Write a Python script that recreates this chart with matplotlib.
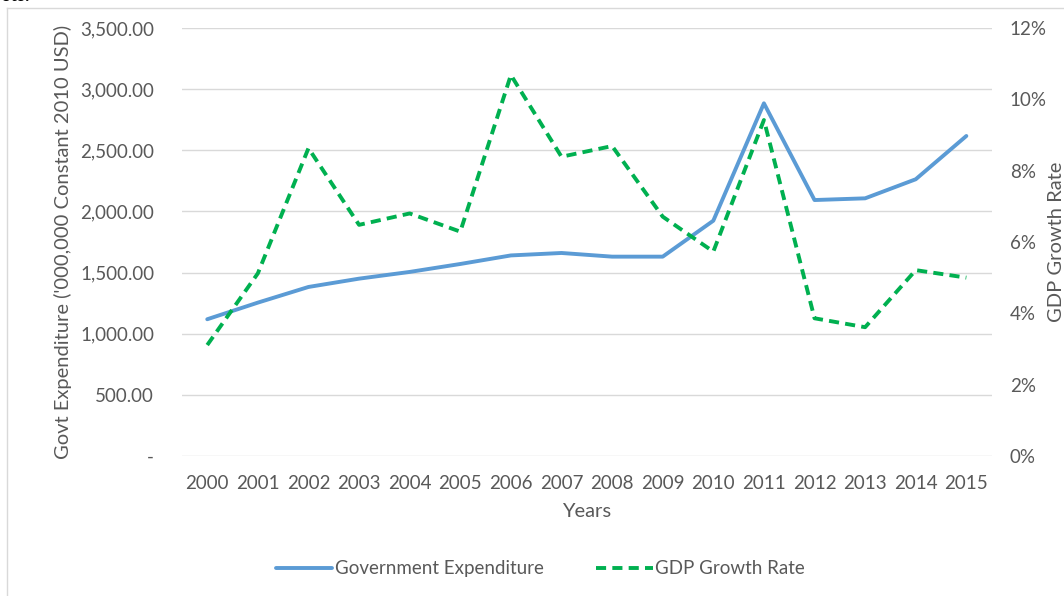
import matplotlib.pyplot as plt
from matplotlib.lines import Line2D
from matplotlib.ticker import FuncFormatter

plt.rcParams['font.family'] = ['Lato', 'DejaVu Sans']

years = [2000, 2001, 2002, 2003, 2004, 2005, 2006, 2007,
         2008, 2009, 2010, 2011, 2012, 2013, 2014, 2015]
govt_exp = [1118, 1254, 1382, 1450, 1505, 1570, 1640, 1660,
            1630, 1630, 1924, 2884, 2093, 2107, 2263, 2617]
gdp_growth = [3.11, 5.12, 8.63, 6.48, 6.80, 6.29, 10.68, 8.39,
              8.69, 6.71, 5.73, 9.42, 3.86, 3.61, 5.21, 5.00]

BLUE = '#5B9BD5'
GREEN = '#00B050'
GREY = '#595959'

fig = plt.figure(figsize=(10.64, 5.96), dpi=100)
ax = fig.add_axes([0.171, 0.235, 0.761, 0.718])
ax2 = ax.twinx()

x = list(range(len(years)))
ax.plot(x, govt_exp, color=BLUE, lw=2.8, solid_capstyle='round',
        label='Government Expenditure', zorder=3)
ax2.plot(x, gdp_growth, color=GREEN, lw=2.8, dashes=(2.6, 1.6),
         label='GDP Growth Rate', zorder=3)

ax.set_xlim(-0.5, len(years) - 0.5)
ax.set_ylim(0, 3500)
ax.set_yticks(range(0, 3501, 500))
ax.yaxis.set_major_formatter(FuncFormatter(lambda v, p: '-' if v == 0 else f'{v:,.2f}'))
ax2.set_ylim(0, 12)
ax2.set_yticks(range(0, 13, 2))
ax2.yaxis.set_major_formatter(FuncFormatter(lambda v, p: f'{v:.0f}%'))

ax.set_xticks(x)
ax.set_xticklabels([str(y) for y in years])

ax.grid(axis='y', color='#D9D9D9', lw=1)
ax.set_axisbelow(True)
for a in (ax, ax2):
    for s in a.spines.values():
        s.set_visible(False)
    a.tick_params(length=0, colors=GREY, labelsize=13.5)
ax.tick_params(axis='y', pad=20)
ax.tick_params(axis='x', pad=14)
ax2.tick_params(axis='y', pad=13)

ax.set_xlabel('Years', color=GREY, fontsize=14.5, labelpad=8)
ax.set_ylabel("Govt Expenditure ('000,000 Constant 2010 USD)", color=GREY,
              fontsize=14.5, labelpad=6)
ax2.set_ylabel('GDP Growth Rate', color=GREY, fontsize=14.5, labelpad=1)

handles = ax.get_lines() + ax2.get_lines()
fig.legend(handles, [h.get_label() for h in handles], loc='center',
           bbox_to_anchor=(0.508, 0.046), ncol=2, frameon=False,
           fontsize=13.5, labelcolor=GREY, handlelength=3.0,
           handletextpad=0.15, columnspacing=2.8)

# chart frame (top and left edges)
fig.add_artist(Line2D([0.0066, 1.0], [0.9866, 0.9866], color='#D9D9D9', lw=1))
fig.add_artist(Line2D([0.0066, 0.0066], [0.0, 0.9866], color='#D9D9D9', lw=1))
fig.text(0.0, 1.007, 'ots.', fontsize=13, fontweight='bold', color='black',
         va='center', ha='left')

fig.savefig('out.png', dpi=100)
